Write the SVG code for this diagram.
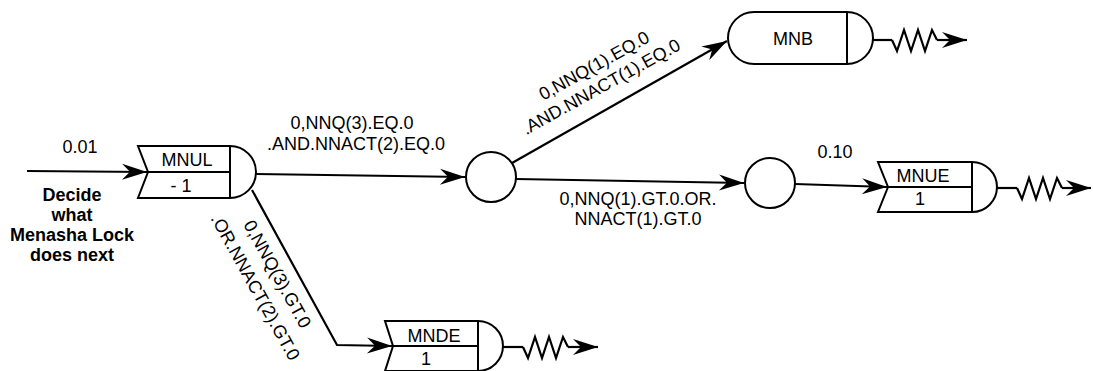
<svg xmlns="http://www.w3.org/2000/svg" width="1093" height="371" viewBox="0 0 1093 371">
  <style>
    .t { font-family: "Liberation Sans", Arial, sans-serif; font-size: 18px; fill: #000; }
    .b { font-weight: bold; }
    .m { text-anchor: middle; }
    .shape { fill: #fff; stroke: #000; stroke-width: 2; }
    .ln { fill: none; stroke: #000; stroke-width: 2; }
    .c { fill: none; stroke: #000; stroke-width: 2.2; }
  </style>
  <defs>
    <marker id="ah" markerUnits="userSpaceOnUse" markerWidth="30" markerHeight="20" viewBox="-28 -10 30 20" refX="0" refY="0" orient="auto">
      <path d="M0,0 L-25,-8 L-17,0 L-25,8 Z" fill="#000"/>
    </marker>
    <path id="zz" d="M0,0 L5,11 L12,-10 L19,11 L26,-10 L33,11 L40,-10 L45,0"/>
  </defs>

  <g id="connectors">
    <path class="c" d="M27,171 L147,172" marker-end="url(#ah)"/>
    <path class="c" d="M256,174 L465,177" marker-end="url(#ah)"/>
    <path class="c" d="M252,190 L337,345 L392,346" marker-end="url(#ah)"/>
    <path class="c" stroke-width="3" d="M512,163 L727,41" marker-end="url(#ah)"/>
    <path class="c" d="M516,179 L744,183" marker-end="url(#ah)"/>
    <path class="c" d="M795,184 L887,187" marker-end="url(#ah)"/>
    <path class="c" d="M873,40 L892,40"/>
    <use href="#zz" class="c" transform="translate(892,40)"/>
    <path class="c" d="M937,40 L967,40" marker-end="url(#ah)"/>
    <path class="c" d="M997,188 L1017,188"/>
    <use href="#zz" class="c" transform="translate(1017,188)"/>
    <path class="c" d="M1062,188 L1091,188" marker-end="url(#ah)"/>
    <path class="c" d="M503,347 L523,347"/>
    <use href="#zz" class="c" transform="translate(523,347)"/>
    <path class="c" d="M568,347 L598,347" marker-end="url(#ah)"/>
  </g>

  <g id="label-input">
    <text class="t m" x="80" y="153">0.01</text>
    <text class="t b m" x="72" y="201">Decide</text>
    <text class="t b m" x="72" y="221">what</text>
    <text class="t b m" x="72" y="241">Menasha Lock</text>
    <text class="t b m" x="72" y="261">does next</text>
  </g>

  <g id="node-MNUL">
    <path class="shape" d="M138,146 L230,146 A26,26 0 0 1 230,198 L138,198 L148,172 Z"/>
    <path class="ln" d="M148,172 L230,172 M230,146 L230,198"/>
    <text class="t m" x="187" y="166">MNUL</text>
    <text class="t m" x="181" y="192">- 1</text>
  </g>

  <g id="node-C1">
    <circle class="shape" cx="491" cy="177" r="25"/>
  </g>

  <g id="node-C2">
    <circle class="shape" cx="770" cy="183" r="25"/>
  </g>

  <g id="node-MNB">
    <path class="shape" d="M754,12 L847,12 A26,26 0 0 1 847,64 L754,64 A26,26 0 0 1 754,12 Z"/>
    <path class="ln" d="M847,12 L847,64"/>
    <text class="t m" x="793" y="45">MNB</text>
  </g>

  <g id="node-MNUE">
    <path class="shape" d="M878,162 L972,162 A25,25 0 0 1 972,212 L878,212 L888,187 Z"/>
    <path class="ln" d="M888,187 L972,187 M972,162 L972,212"/>
    <text class="t m" x="923" y="182">MNUE</text>
    <text class="t m" x="920" y="205">1</text>
  </g>

  <g id="node-MNDE">
    <path class="shape" d="M385,321 L478,321 A25,25 0 0 1 478,371 L385,371 L393,346 Z"/>
    <path class="ln" d="M393,346 L478,346 M478,321 L478,371"/>
    <text class="t m" x="434" y="342">MNDE</text>
    <text class="t m" x="426" y="365">1</text>
  </g>

  <g id="edge-labels">
    <text class="t m" x="352" y="129">0,NNQ(3).EQ.0</text>
    <text class="t m" x="356" y="150">.AND.NNACT(2).EQ.0</text>
    <text class="t m" transform="translate(597,71) rotate(-29)">0,NNQ(1).EQ.0</text>
    <text class="t m" transform="translate(604,92) rotate(-29)">.AND.NNACT(1).EQ.0</text>
    <text class="t m" x="638" y="205">0,NNQ(1).GT.0.OR.</text>
    <text class="t m" x="638" y="225">NNACT(1).GT.0</text>
    <text class="t m" x="835" y="158">0.10</text>
    <text class="t m" transform="translate(272,277) rotate(61)">0,NNQ(3).GT.0</text>
    <text class="t m" transform="translate(250,290) rotate(61)">.OR.NNACT(2).GT.0</text>
  </g>
</svg>
